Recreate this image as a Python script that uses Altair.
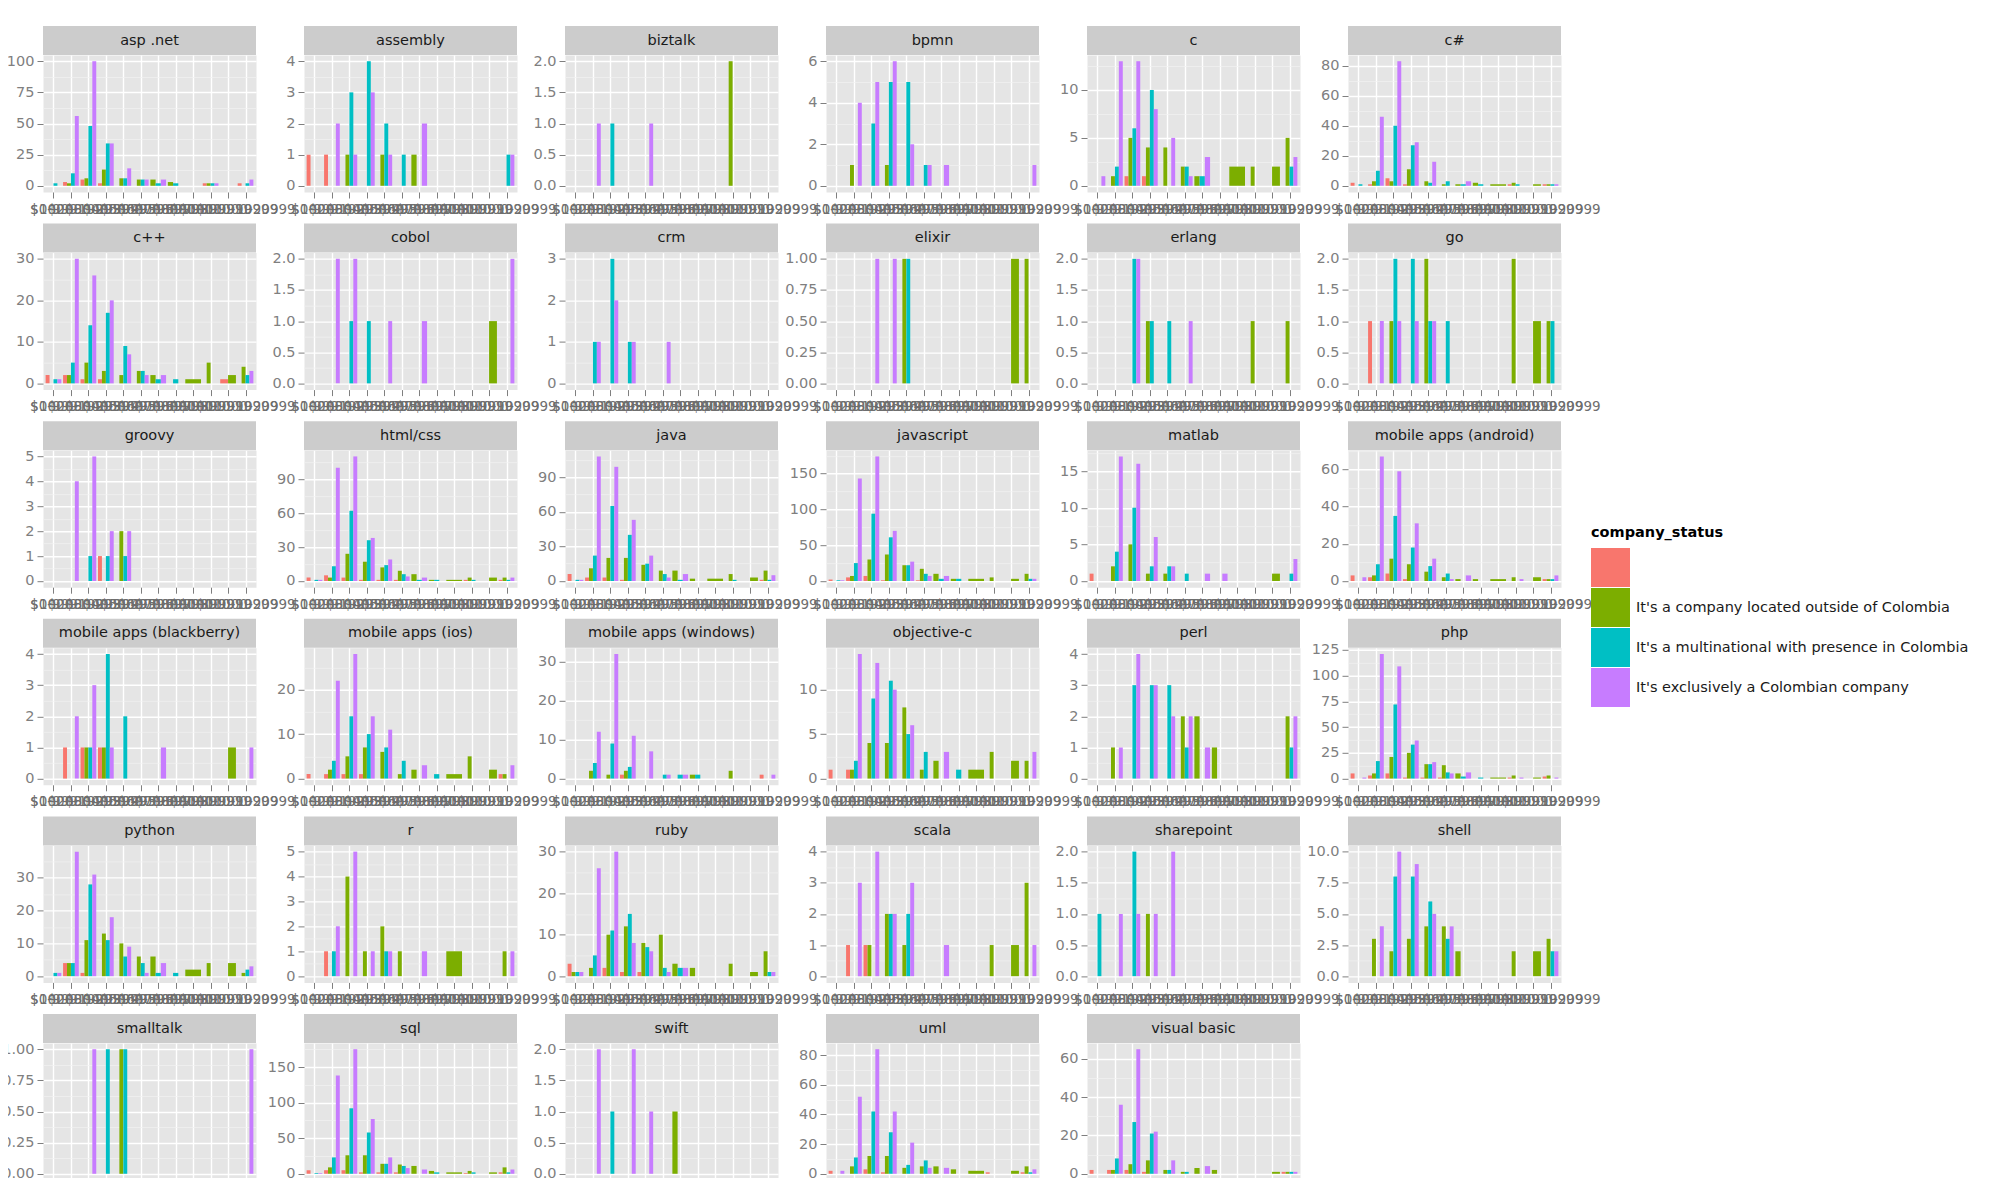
import json
import altair as alt
import pandas as pd

LANGS = [
    "asp .net", "assembly", "biztalk", "bpmn", "c", "c#",
    "c++", "cobol", "crm", "elixir", "erlang", "go",
    "groovy", "html/css", "java", "javascript", "matlab", "mobile apps (android)",
    "mobile apps (blackberry)", "mobile apps (ios)", "mobile apps (windows)", "objective-c", "perl", "php",
    "python", "r", "ruby", "scala", "sharepoint", "shell",
    "smalltalk", "sql", "swift", "uml", "visual basic",
]

SALARY_BINS = [
    "$0-999", "$1000-1999", "$2000-2999", "$3000-3999", "$4000-4999", "$5000-5999",
    "$6000-6999", "$7000-7999", "$8000-8999", "$9000-9999", "$10000-10999", "$11000-20999",
]

STATUSES = [
    "",
    "It's a company located outside of Colombia",
    "It's a multinational with presence in Colombia",
    "It's exclusively a Colombian company",
]
COLORS = ["#F8766D", "#7CAE00", "#00BFC4", "#C77CFF"]

# counts per language (rows in LANGS order) and salary bin (columns)
BLANK = [
    [0, 3, 5, 2, 0, 0, 0, 0, 0, 2, 0, 2],
    [1, 1, 0, 0, 0, 0, 0, 0, 0, 0, 0, 0],
    [0, 0, 0, 0, 0, 0, 0, 0, 0, 0, 0, 0],
    [0, 0, 0, 0, 0, 0, 0, 0, 0, 0, 0, 0],
    [0, 0, 1, 1, 0, 0, 0, 0, 0, 0, 0, 0],
    [2, 1, 5, 1, 0, 0, 0, 0, 0, 1, 0, 1],
    [2, 2, 1, 1, 0, 0, 0, 0, 0, 0, 1, 0],
    [0, 0, 0, 0, 0, 0, 0, 0, 0, 0, 0, 0],
    [0, 0, 0, 0, 0, 0, 0, 0, 0, 0, 0, 0],
    [0, 0, 0, 0, 0, 0, 0, 0, 0, 0, 0, 0],
    [0, 0, 0, 0, 0, 0, 0, 0, 0, 0, 0, 0],
    [0, 1, 0, 0, 0, 0, 0, 0, 0, 0, 0, 0],
    [0, 0, 0, 1, 0, 0, 0, 0, 0, 0, 0, 0],
    [3, 5, 3, 1, 1, 1, 0, 0, 0, 1, 0, 1],
    [6, 3, 3, 1, 0, 0, 0, 0, 0, 0, 0, 1],
    [2, 5, 7, 1, 0, 1, 0, 0, 0, 0, 0, 0],
    [1, 0, 0, 0, 0, 0, 0, 0, 0, 0, 0, 0],
    [3, 2, 4, 1, 0, 0, 0, 0, 0, 0, 0, 1],
    [0, 1, 1, 1, 0, 0, 0, 0, 0, 0, 0, 0],
    [1, 1, 1, 1, 0, 0, 0, 0, 0, 0, 0, 1],
    [0, 0, 0, 1, 0, 0, 0, 0, 0, 0, 0, 1],
    [1, 1, 0, 0, 0, 0, 0, 0, 0, 0, 0, 0],
    [0, 0, 0, 0, 0, 0, 0, 0, 0, 0, 0, 0],
    [5, 3, 5, 1, 1, 1, 0, 0, 0, 1, 0, 2],
    [0, 4, 1, 0, 0, 0, 0, 0, 0, 0, 0, 0],
    [0, 1, 0, 0, 0, 0, 0, 0, 0, 0, 0, 0],
    [3, 0, 2, 1, 1, 0, 0, 0, 0, 0, 0, 0],
    [0, 1, 1, 0, 0, 0, 0, 0, 0, 0, 0, 0],
    [0, 0, 0, 0, 0, 0, 0, 0, 0, 0, 0, 0],
    [0, 0, 0, 0, 0, 0, 0, 0, 0, 0, 0, 0],
    [0, 0, 0, 0, 0, 0, 0, 0, 0, 0, 0, 0],
    [5, 5, 5, 2, 2, 2, 0, 0, 0, 1, 0, 2],
    [0, 0, 0, 0, 0, 0, 0, 0, 0, 0, 0, 0],
    [2, 0, 3, 1, 0, 0, 0, 0, 0, 1, 0, 1],
    [2, 2, 2, 1, 0, 0, 0, 0, 0, 0, 0, 1],
]

OUTSIDE = [
    [0, 2, 6, 13, 6, 5, 5, 3, 0, 2, 0, 0],
    [0, 0, 1, 0, 1, 0, 1, 0, 0, 0, 0, 0],
    [0, 0, 0, 0, 0, 0, 0, 0, 0, 2, 0, 0],
    [0, 1, 0, 1, 0, 0, 0, 0, 0, 0, 0, 0],
    [0, 1, 5, 4, 4, 2, 1, 0, 2, 2, 2, 5],
    [0, 3, 3, 11, 3, 1, 1, 2, 1, 2, 1, 1],
    [0, 2, 5, 3, 2, 3, 2, 0, 1, 5, 2, 4],
    [0, 0, 0, 0, 0, 0, 0, 0, 0, 0, 1, 0],
    [0, 0, 0, 0, 0, 0, 0, 0, 0, 0, 0, 0],
    [0, 0, 0, 0, 1, 0, 0, 0, 0, 0, 1, 1],
    [0, 0, 0, 1, 0, 0, 0, 0, 0, 1, 0, 1],
    [0, 0, 1, 0, 2, 0, 0, 0, 0, 2, 1, 1],
    [0, 0, 0, 0, 2, 0, 0, 0, 0, 0, 0, 0],
    [0, 3, 24, 17, 12, 9, 6, 1, 1, 3, 3, 3],
    [0, 11, 20, 20, 14, 9, 9, 2, 2, 6, 3, 9],
    [0, 7, 30, 37, 22, 17, 10, 3, 3, 5, 3, 10],
    [0, 2, 5, 1, 1, 0, 0, 0, 0, 0, 1, 0],
    [0, 3, 12, 9, 5, 2, 1, 1, 1, 2, 2, 1],
    [0, 0, 1, 1, 0, 0, 0, 0, 0, 0, 1, 0],
    [0, 2, 5, 7, 6, 1, 2, 0, 1, 5, 2, 1],
    [0, 2, 1, 2, 0, 0, 0, 1, 0, 2, 0, 0],
    [0, 1, 4, 4, 8, 1, 2, 0, 1, 3, 2, 2],
    [0, 1, 0, 0, 0, 2, 2, 1, 0, 0, 0, 2],
    [0, 5, 21, 25, 14, 13, 5, 0, 1, 3, 1, 3],
    [0, 4, 11, 13, 10, 6, 6, 0, 2, 4, 4, 1],
    [0, 0, 4, 1, 2, 1, 0, 0, 1, 0, 0, 1],
    [1, 2, 10, 12, 8, 10, 3, 2, 0, 3, 1, 6],
    [0, 0, 1, 2, 1, 0, 0, 0, 0, 1, 1, 3],
    [0, 0, 0, 1, 0, 0, 0, 0, 0, 0, 0, 0],
    [0, 3, 2, 3, 4, 4, 2, 0, 0, 2, 2, 3],
    [0, 0, 0, 0, 1, 0, 0, 0, 0, 0, 0, 0],
    [0, 9, 26, 26, 14, 13, 11, 4, 2, 4, 2, 9],
    [0, 0, 0, 0, 0, 0, 1, 0, 0, 0, 0, 0],
    [0, 5, 12, 12, 4, 5, 5, 3, 2, 0, 2, 5],
    [0, 2, 5, 7, 2, 1, 3, 2, 0, 0, 1, 1],
]

MULTINATIONAL = [
    [2, 10, 48, 34, 6, 5, 2, 2, 0, 2, 0, 2],
    [0, 0, 3, 4, 2, 1, 0, 0, 0, 0, 0, 1],
    [0, 0, 1, 0, 0, 0, 0, 0, 0, 0, 0, 0],
    [0, 0, 3, 5, 5, 1, 0, 0, 0, 0, 0, 0],
    [0, 2, 6, 10, 0, 2, 1, 0, 0, 0, 0, 2],
    [1, 10, 40, 27, 2, 3, 1, 1, 0, 1, 0, 1],
    [1, 5, 14, 17, 9, 3, 1, 1, 0, 0, 0, 2],
    [0, 0, 1, 1, 0, 0, 0, 0, 0, 0, 0, 0],
    [0, 1, 3, 1, 0, 0, 0, 0, 0, 0, 0, 0],
    [0, 0, 0, 0, 1, 0, 0, 0, 0, 0, 0, 0],
    [0, 0, 2, 1, 1, 0, 0, 0, 0, 0, 0, 0],
    [0, 0, 2, 2, 1, 1, 0, 0, 0, 0, 0, 1],
    [0, 0, 1, 1, 1, 0, 0, 0, 0, 0, 0, 0],
    [1, 13, 62, 36, 14, 6, 1, 1, 0, 1, 0, 1],
    [1, 22, 65, 40, 15, 6, 1, 0, 0, 1, 0, 1],
    [1, 25, 94, 61, 22, 10, 3, 3, 0, 0, 0, 3],
    [0, 4, 10, 2, 2, 1, 0, 0, 0, 0, 0, 1],
    [0, 9, 35, 18, 8, 4, 0, 0, 0, 0, 0, 1],
    [0, 0, 1, 4, 2, 0, 0, 0, 0, 0, 0, 0],
    [0, 4, 14, 10, 7, 4, 0, 1, 0, 0, 0, 0],
    [0, 4, 9, 3, 0, 1, 1, 1, 0, 0, 0, 0],
    [0, 2, 9, 11, 5, 3, 0, 1, 0, 0, 0, 0],
    [0, 0, 3, 3, 3, 1, 0, 0, 0, 0, 0, 1],
    [0, 17, 72, 33, 14, 6, 2, 1, 0, 0, 0, 0],
    [1, 4, 28, 11, 6, 4, 1, 1, 0, 0, 0, 2],
    [0, 1, 0, 0, 1, 0, 0, 0, 0, 0, 0, 0],
    [1, 5, 11, 15, 7, 2, 2, 0, 0, 0, 0, 1],
    [0, 0, 0, 2, 2, 0, 0, 0, 0, 0, 0, 0],
    [1, 0, 2, 0, 0, 0, 0, 0, 0, 0, 0, 0],
    [0, 0, 8, 8, 6, 3, 0, 0, 0, 0, 0, 2],
    [0, 0, 0, 1, 1, 0, 0, 0, 0, 0, 0, 0],
    [1, 23, 92, 58, 14, 11, 0, 2, 0, 2, 0, 2],
    [0, 0, 1, 0, 0, 0, 0, 0, 0, 0, 0, 0],
    [0, 11, 42, 28, 6, 9, 0, 0, 0, 0, 0, 1],
    [0, 8, 27, 21, 2, 1, 0, 0, 0, 0, 0, 1],
]

COLOMBIAN = [
    [0, 56, 100, 34, 14, 5, 5, 0, 0, 2, 0, 5],
    [0, 2, 1, 3, 1, 0, 2, 0, 0, 0, 0, 1],
    [0, 1, 0, 0, 1, 0, 0, 0, 0, 0, 0, 0],
    [0, 4, 5, 6, 2, 1, 1, 0, 0, 0, 0, 1],
    [1, 13, 13, 8, 5, 1, 3, 0, 0, 0, 0, 3],
    [0, 46, 83, 29, 16, 0, 3, 0, 0, 0, 0, 1],
    [1, 30, 26, 20, 7, 2, 2, 0, 0, 0, 0, 3],
    [0, 2, 2, 0, 1, 0, 1, 0, 0, 0, 0, 2],
    [0, 1, 2, 1, 0, 1, 0, 0, 0, 0, 0, 0],
    [0, 0, 1, 1, 0, 0, 0, 0, 0, 0, 0, 0],
    [0, 0, 2, 0, 0, 1, 0, 0, 0, 0, 0, 0],
    [0, 1, 1, 1, 1, 0, 0, 0, 0, 0, 0, 0],
    [0, 4, 5, 2, 2, 0, 0, 0, 0, 0, 0, 0],
    [1, 100, 110, 38, 19, 4, 3, 0, 0, 0, 0, 3],
    [1, 108, 99, 53, 22, 3, 6, 0, 0, 0, 0, 5],
    [1, 143, 174, 70, 27, 7, 7, 0, 0, 0, 0, 3],
    [0, 17, 16, 6, 2, 0, 1, 1, 0, 0, 0, 3],
    [2, 67, 59, 31, 12, 1, 3, 0, 0, 1, 0, 3],
    [0, 2, 3, 1, 0, 0, 1, 0, 0, 0, 0, 1],
    [0, 22, 28, 14, 11, 0, 3, 0, 0, 0, 0, 3],
    [0, 12, 32, 11, 7, 1, 1, 0, 0, 0, 0, 1],
    [0, 14, 13, 10, 6, 0, 3, 0, 0, 0, 0, 3],
    [0, 1, 4, 3, 2, 2, 1, 0, 0, 0, 0, 2],
    [1, 121, 109, 37, 16, 5, 6, 0, 0, 1, 0, 1],
    [1, 38, 31, 18, 9, 1, 4, 0, 0, 0, 0, 3],
    [0, 2, 5, 1, 1, 0, 1, 0, 0, 0, 0, 1],
    [1, 26, 30, 8, 6, 1, 2, 0, 0, 0, 0, 1],
    [0, 3, 4, 2, 3, 0, 1, 0, 0, 0, 0, 1],
    [0, 1, 1, 1, 2, 0, 0, 0, 0, 0, 0, 0],
    [0, 4, 10, 9, 5, 4, 0, 0, 0, 0, 0, 2],
    [0, 0, 1, 0, 0, 0, 0, 0, 0, 0, 0, 1],
    [1, 138, 175, 77, 23, 8, 6, 0, 0, 0, 0, 6],
    [0, 2, 0, 2, 1, 0, 0, 0, 0, 0, 0, 0],
    [2, 52, 84, 42, 21, 4, 4, 0, 0, 0, 0, 3],
    [0, 36, 65, 22, 7, 0, 4, 0, 0, 0, 0, 1],
]

# y-axis tick labels per panel, as printed
Y_TICKS = [
    [0, 25, 50, 75, 100], [0, 1, 2, 3, 4], [0, 0.5, 1, 1.5, 2], [0, 2, 4, 6], [0, 5, 10], [0, 20, 40, 60, 80],
    [0, 10, 20, 30], [0, 0.5, 1, 1.5, 2], [0, 1, 2, 3], [0, 0.25, 0.5, 0.75, 1], [0, 0.5, 1, 1.5, 2], [0, 0.5, 1, 1.5, 2],
    [0, 1, 2, 3, 4, 5], [0, 30, 60, 90], [0, 30, 60, 90], [0, 50, 100, 150], [0, 5, 10, 15], [0, 20, 40, 60],
    [0, 1, 2, 3, 4], [0, 10, 20], [0, 10, 20, 30], [0, 5, 10], [0, 1, 2, 3, 4], [0, 25, 50, 75, 100, 125],
    [0, 10, 20, 30], [0, 1, 2, 3, 4, 5], [0, 10, 20, 30], [0, 1, 2, 3, 4], [0, 0.5, 1, 1.5, 2], [0, 2.5, 5, 7.5, 10],
    [0, 0.25, 0.5, 0.75, 1], [0, 50, 100, 150], [0, 0.5, 1, 1.5, 2], [0, 20, 40, 60, 80], [0, 20, 40, 60],
]

SERIES = [BLANK, OUTSIDE, MULTINATIONAL, COLOMBIAN]

rows = []
for li, lang in enumerate(LANGS):
    for si, series in enumerate(SERIES):
        for ci, v in enumerate(series[li]):
            if v > 0:
                rows.append({"lang": lang, "cat": ci, "sidx": si, "status": STATUSES[si], "n": v})
df = pd.DataFrame(rows)

W, H = 213, 137
FONT = "DejaVu Sans"
GREY = "#7F7F7F"
labels_js = json.dumps(SALARY_BINS)


def js_list(vals):
    return "[" + ",".join(repr(float(v)) if not float(v).is_integer() else str(int(v)) for v in vals) + "]"


def panel(li, lang):
    ymax = max(max(s[li]) for s in SERIES)
    lo, hi = -0.05 * ymax, 1.05 * ymax
    majors = Y_TICKS[li]
    step = majors[1] - majors[0]
    minors = [m + step / 2 for m in majors]
    vals = sorted(set(majors + minors))
    dec = 0
    for d in (0, 1, 2):
        if abs(round(step, d) - step) < 1e-9:
            dec = d
            break
    test = f"indexof({js_list(majors)}, datum.value) >= 0"

    base = alt.Chart(df)
    bars = base.transform_window(
        window=[{"op": "dense_rank", "as": "slot"}],
        groupby=["cat"],
        sort=[{"field": "sidx", "order": "ascending"}],
    ).transform_joinaggregate(
        joinaggregate=[{"op": "distinct", "field": "sidx", "as": "ng"}],
        groupby=["cat"],
    ).transform_filter(
        alt.datum.lang == lang
    ).transform_calculate(
        x0="datum.cat - 0.45 + 0.9 * (datum.slot - 1) / datum.ng",
        x1="datum.cat - 0.45 + 0.9 * datum.slot / datum.ng",
    ).mark_bar(strokeWidth=0).encode(
        x=alt.X(
            "x0:Q",
            scale=alt.Scale(domain=[-0.6, 11.6], nice=False, zero=False),
            axis=alt.Axis(
                values=list(range(12)),
                labelExpr=f"{labels_js}[datum.value]",
                title=None,
                grid=True,
                gridColor="#FFFFFF",
                gridWidth=1.4,
                domain=False,
                tickColor=GREY,
                tickSize=6,
                tickWidth=1,
                labelOverlap=False,
                labelFlush=False,
                labelBound=False,
                labelFont=FONT,
                labelFontSize=13.5,
                labelColor="#6E6E6E",
                labelPadding=4,
            ),
        ),
        x2="x1:Q",
        y=alt.Y(
            "n:Q",
            scale=alt.Scale(domain=[lo, hi], nice=False, zero=False),
            axis=alt.Axis(
                values=vals,
                format=f".{dec}f",
                labelExpr=f"{test} ? datum.label : ''",
                title=None,
                grid=True,
                gridColor={"condition": {"test": test, "value": "#FFFFFF"}, "value": "#F2F2F2"},
                gridWidth={"condition": {"test": test, "value": 1.4}, "value": 0.7},
                tickOpacity={"condition": {"test": test, "value": 1}, "value": 0},
                domain=False,
                tickColor=GREY,
                tickSize=6,
                labelFont=FONT,
                labelFontSize=14.5,
                labelColor=GREY,
                labelPadding=3,
                labelOverlap=False,
                labelFlush=False,
            ),
        ),
        y2=alt.datum(0),
        color=alt.Color(
            "status:N",
            scale=alt.Scale(domain=STATUSES, range=COLORS),
            legend=alt.Legend(title="company_status"),
        ),
    )

    strip_src = base.transform_filter(alt.datum.lang == lang).transform_aggregate(
        k="count()", groupby=["lang"]
    )
    strip_bg = strip_src.mark_rect(color="#CCCCCC").encode(
        x=alt.value(0), x2=alt.value(W), y=alt.value(-29), y2=alt.value(0)
    )
    strip_txt = strip_src.mark_text(
        font=FONT, fontSize=14.5, color="#1A1A1A", align="center", baseline="middle"
    ).encode(x=alt.value(W / 2), y=alt.value(-14.5), text="lang:N")

    return alt.layer(bars, strip_bg, strip_txt).properties(width=W, height=H)


panels = [panel(i, l) for i, l in enumerate(LANGS)]

chart = alt.concat(
    *panels, columns=6, spacing={"row": 60.6, "column": 48}, bounds="flush"
).properties(
    autosize=alt.AutoSizeParams(type="none"),
    padding={"left": 35, "top": 47, "right": 1949, "bottom": 1123},
    background="white",
).configure_view(
    fill="#E5E5E5", stroke="transparent"
).configure_legend(
    orient="none",
    legendX=1548,
    legendY=471,
    padding=0,
    titleFont=FONT,
    titleFontSize=14.5,
    titleFontWeight="bold",
    titleColor="#000000",
    titlePadding=7.5,
    labelFont=FONT,
    labelFontSize=14.5,
    labelColor="#1A1A1A",
    labelOffset=6,
    labelLimit=0,
    symbolType="square",
    symbolSize=1521,
    symbolStrokeWidth=0,
    symbolOpacity=1,
    rowPadding=1,
)

chart.save("out.html", embed_options={"renderer": "svg", "actions": False})
